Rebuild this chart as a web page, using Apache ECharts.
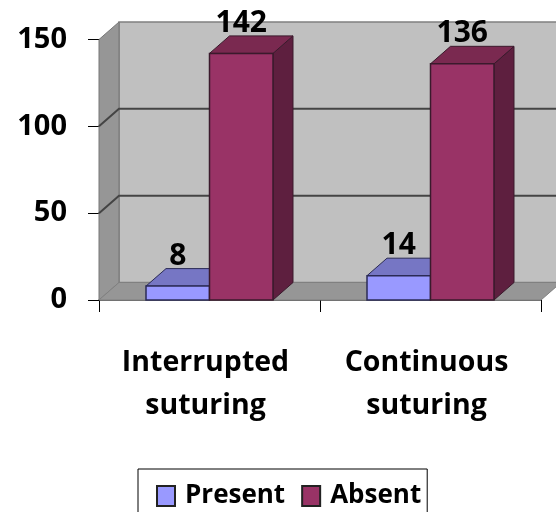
<!DOCTYPE html>
<html>
<head>
<meta charset="utf-8">
<style>
  html, body { margin: 0; padding: 0; background: #fff; }
  #myChart { width: 556px; height: 512px; }
</style>
<script src="https://cdn.jsdelivr.net/npm/echarts@6/dist/echarts.min.js"></script>
</head>
<body>
<div id="myChart"></div>
<script>
const categories = ["Interrupted\nsuturing", "Continuous\nsuturing"];
const present = [8, 14];
const absent = [142, 136];
const yTicks = [0, 50, 100, 150];

const FONT = '"Open Sans", sans-serif';
// 3d look: how far the back of the chart is shifted from the front
const DX = 20;
const DY = -17.5;
const BAR_RATIO = 63.5 / 221;

function poly(points, fill, stroke, lineWidth) {
  return {
    type: "polygon",
    shape: { points: points },
    style: { fill: fill, stroke: stroke || null, lineWidth: lineWidth || 0 }
  };
}

// walls, floor and the gridlines that run over them
function renderWalls(params, api) {
  const box = params.coordSys;
  const left = box.x;
  const right = box.x + box.width;
  const bottom = box.y + box.height;
  const top = box.y;
  const y = api.coord([0, api.value(0)])[1];
  const children = [];
  if (params.dataIndex === 0) {
    children.push(poly([[left + DX, top + DY], [right + DX, top + DY], [right + DX, bottom + DY], [left + DX, bottom + DY]], "#c0c0c0", "#808080", 1.5));
    children.push(poly([[left, top], [left + DX, top + DY], [left + DX, bottom + DY], [left, bottom]], "#969696", "#777777", 1));
    children.push(poly([[left, bottom], [left + DX, bottom + DY], [right + DX, bottom + DY], [right, bottom]], "#969696", "#808080", 1));
  } else if (api.value(0) < 150) {
    children.push({
      type: "polyline",
      shape: { points: [[left, y], [left + DX, y + DY], [right + DX, y + DY]] },
      style: { fill: null, stroke: "#444444", lineWidth: 2 }
    });
  }
  return { type: "group", children: children };
}

// one 3d column, offset = -1 sits left of the category centre, 0 sits right of it
function barRenderer(offset, front, topFace, side, edge) {
  return function (params, api) {
    const w = api.size([1, 0])[0] * BAR_RATIO;
    const base = api.coord([api.value(0), 0]);
    const tip = api.coord([api.value(0), api.value(1)]);
    const x0 = base[0] + offset * w;
    const x1 = x0 + w;
    return {
      type: "group",
      children: [
        poly([[x1, tip[1]], [x1 + DX, tip[1] + DY], [x1 + DX, base[1] + DY], [x1, base[1]]], side, edge, 1),
        poly([[x0, tip[1]], [x0 + DX, tip[1] + DY], [x1 + DX, tip[1] + DY], [x1, tip[1]]], topFace, edge, 1),
        poly([[x0, tip[1]], [x1, tip[1]], [x1, base[1]], [x0, base[1]]], front, edge, 1.5),
        {
          type: "text",
          z2: 50,
          style: {
            x: (x0 + x1) / 2,
            y: tip[1] - 15,
            text: String(api.value(1)),
            align: "center",
            verticalAlign: "bottom",
            fontFamily: FONT,
            fontWeight: "bold",
            fontSize: 30,
            fill: "#000"
          }
        }
      ]
    };
  };
}

const myChart = echarts.init(document.getElementById("myChart"));
myChart.setOption({
  animation: false,
  backgroundColor: "#fff",
  grid: { left: 99, right: 15, top: 39.5, bottom: 212 },
  legend: {
    data: ["Present", "Absent"],
    left: 138,
    top: 469,
    padding: [14, 6, 15, 18],
    itemGap: 16,
    itemWidth: 18,
    itemHeight: 20,
    borderColor: "#000",
    borderWidth: 1,
    icon: "rect",
    itemStyle: { borderColor: "#222", borderWidth: 2 },
    textStyle: { fontFamily: FONT, fontWeight: "bold", fontSize: 26, color: "#000", padding: [0, 0, 0, 5] }
  },
  xAxis: {
    type: "category",
    data: categories,
    axisLine: { lineStyle: { color: "#333", width: 1.5 } },
    axisTick: { show: true, alignWithLabel: false, length: 12, lineStyle: { color: "#000" } },
    axisLabel: {
      interval: 0,
      margin: 41,
      lineHeight: 43,
      fontFamily: FONT,
      fontWeight: "bold",
      fontSize: 28.5,
      color: "#000",
      padding: [0, 8, 0, 0]
    }
  },
  yAxis: {
    type: "value",
    min: 0,
    max: 150,
    interval: 50,
    splitLine: { show: false },
    axisLine: { show: true, lineStyle: { color: "#666" } },
    axisTick: { show: true, length: 11, lineStyle: { color: "#000" } },
    axisLabel: { margin: 32, fontFamily: FONT, fontWeight: "bold", fontSize: 29, color: "#000", padding: [9, 0, 0, 0] }
  },
  series: [
    {
      name: "walls",
      type: "custom",
      silent: true,
      z: 1,
      renderItem: renderWalls,
      encode: { y: 0 },
      data: yTicks
    },
    {
      name: "Present",
      type: "custom",
      z: 2,
      itemStyle: { color: "#9999ff" },
      renderItem: barRenderer(-1, "#9999ff", "#7676c4", "#5a5a99", "#2b2b55"),
      encode: { x: 0, y: 1 },
      data: present.map((v, i) => [i, v])
    },
    {
      name: "Absent",
      type: "custom",
      z: 3,
      itemStyle: { color: "#993366" },
      renderItem: barRenderer(0, "#993366", "#7a2950", "#5e1f3f", "#3a1a2c"),
      encode: { x: 0, y: 1 },
      data: absent.map((v, i) => [i, v])
    }
  ]
});
</script>
</body>
</html>
